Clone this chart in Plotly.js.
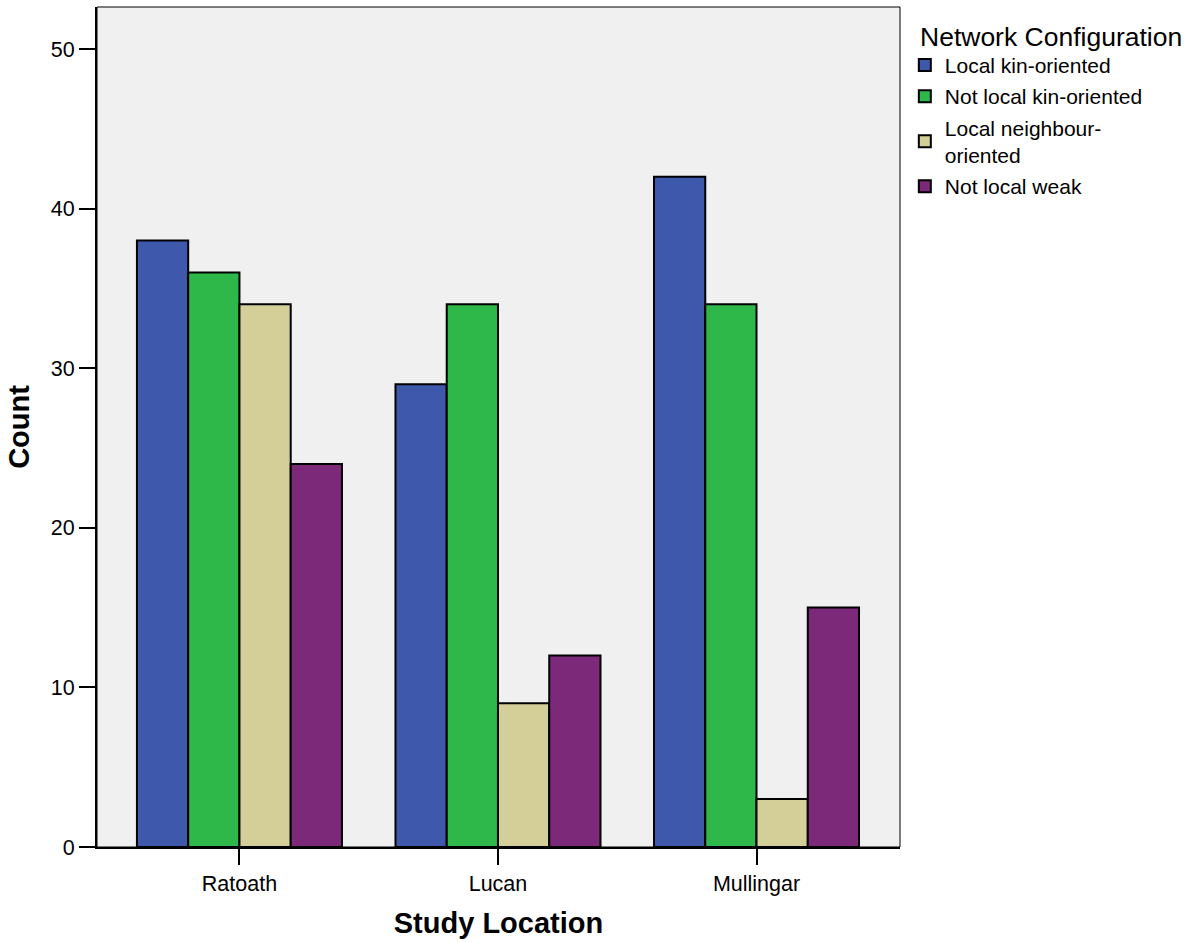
<!DOCTYPE html>
<html><head><meta charset="utf-8">
<script src="https://cdn.plot.ly/plotly-3.0.1.min.js"></script>
<style>body{margin:0;background:#fff}#c{width:1202px;height:942px}</style>
</head><body><div id="c"></div>
<script>
const locations = ["Ratoath", "Lucan", "Mullingar"];
const seriesNames = ["Local kin-oriented", "Not local kin-oriented", "Local neighbour-<br>oriented", "Not local weak"];
const localKin = [38, 29, 42];
const notLocalKin = [36, 34, 34];
const localNeighbour = [34, 9, 3];
const notLocalWeak = [24, 12, 15];
const colors = ["#3e58ac", "#2fb84a", "#d4cf98", "#7b2978"];
const values = [localKin, notLocalKin, localNeighbour, notLocalWeak];

const traces = values.map((v, i) => ({
  type: "bar", x: locations, y: v, name: seriesNames[i], legendgroup: "g" + i,
  marker: {color: colors[i], line: {color: "#000", width: 2}}
}));

const layout = {
  width: 1202, height: 942,
  margin: {l: 97, r: 302, t: 7, b: 95},
  paper_bgcolor: "#fff", plot_bgcolor: "#f0f0f0",
  font: {family: "Liberation Sans, Arial, sans-serif", color: "#000", size: 21},
  barmode: "group", bargap: 0.207, bargroupgap: 0,
  showlegend: true,
  legend: {x: 1.006, y: 0.955, xanchor: "left", yanchor: "top",
    font: {size: 21}, tracegroupgap: 1, bgcolor: "rgba(0,0,0,0)"},
  xaxis: {range: [-0.551, 2.555], showline: true, linecolor: "#000", linewidth: 2, ticks: "outside", ticklen: 16, tickwidth: 2, tickcolor: "#000",
    tickfont: {size: 21.5},
    title: {text: "<b>Study Location</b>", font: {size: 29}, standoff: 18}, showgrid: false, zeroline: false},
  yaxis: {range: [0, 52.63], showline: true, linecolor: "#000", linewidth: 2, ticks: "outside", ticklen: 16, tickwidth: 2, tickcolor: "#000",
    tickfont: {size: 21.5},
    tickvals: [0, 10, 20, 30, 40, 50], title: {text: "<b>Count</b>", font: {size: 29}, standoff: 13},
    showgrid: false, zeroline: false},
  shapes: [{type: "rect", xref: "paper", yref: "paper", x0: 0, x1: 1, y0: 0, y1: 1, line: {color: "#000", width: 1}}],
  annotations: [{text: "Network Configuration", xref: "paper", yref: "paper", x: 1.0224, y: 0.964,
    xanchor: "left", yanchor: "middle", showarrow: false, font: {size: 26.5}}]
};
Plotly.newPlot("c", traces, layout, {displayModeBar: false});
</script></body></html>
